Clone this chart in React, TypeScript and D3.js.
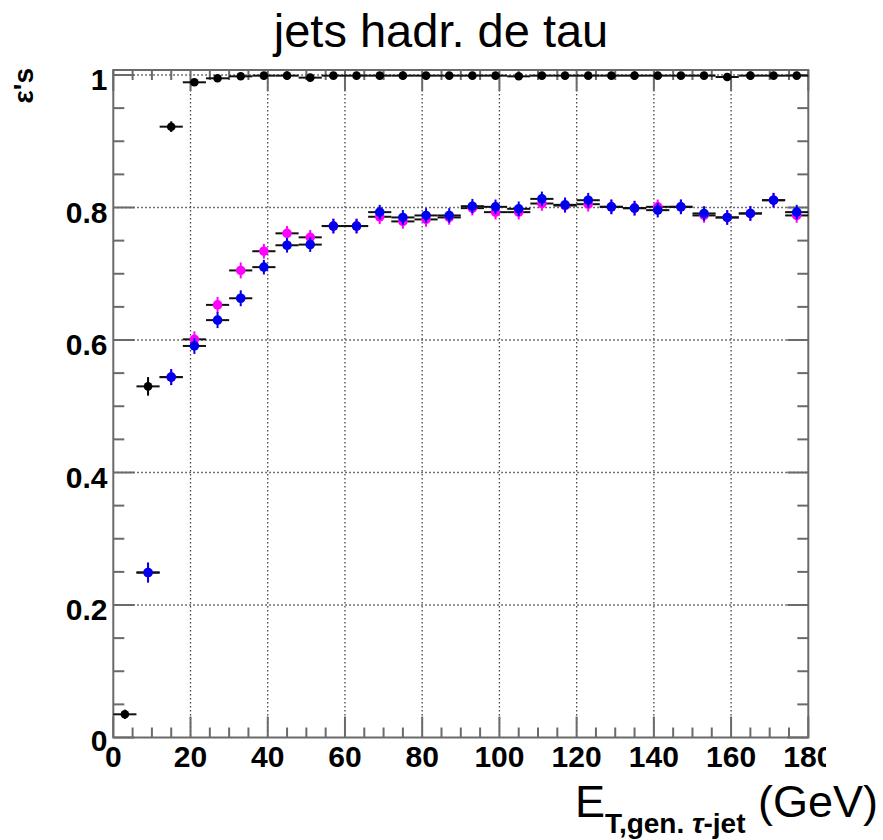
import React from "react";
import * as d3 from "d3";

const binCenters = [3, 9, 15, 21, 27, 33, 39, 45, 51, 57, 63, 69, 75, 81, 87, 93, 99, 105, 111, 117, 123, 129, 135, 141, 147, 153, 159, 165, 171, 177];
const binHalfWidth = 3;

const blackEff = [0.035, 0.53, 0.922, 0.989, 0.995, 0.998, 0.999, 0.999, 0.996, 0.999, 0.999, 0.999, 0.999, 0.999, 0.999, 0.999, 0.999, 0.998, 0.999, 0.999, 0.999, 0.999, 0.999, 0.999, 0.999, 0.999, 0.997, 0.999, 0.999, 0.999];
const blackErr = [0.004, 0.011, 0.005, 0.002, 0.001, 0.001, 0.001, 0.001, 0.001, 0.001, 0.001, 0.001, 0.001, 0.001, 0.001, 0.001, 0.001, 0.001, 0.001, 0.001, 0.001, 0.001, 0.001, 0.001, 0.001, 0.001, 0.001, 0.001, 0.001, 0.001];

const magentaEff = [null, 0.249, 0.544, 0.601, 0.653, 0.705, 0.734, 0.761, 0.755, 0.772, 0.772, 0.786, 0.779, 0.782, 0.785, 0.799, 0.793, 0.793, 0.806, 0.803, 0.805, 0.801, 0.799, 0.801, 0.801, 0.788, 0.785, 0.791, 0.811, 0.788];
const magentaErr = [0, 0.012, 0.009, 0.009, 0.009, 0.009, 0.008, 0.008, 0.008, 0.008, 0.008, 0.008, 0.008, 0.008, 0.008, 0.008, 0.008, 0.008, 0.008, 0.008, 0.008, 0.008, 0.008, 0.008, 0.008, 0.008, 0.008, 0.008, 0.008, 0.008];

const blueEff = [null, 0.249, 0.544, 0.591, 0.63, 0.663, 0.71, 0.743, 0.744, 0.772, 0.772, 0.793, 0.785, 0.788, 0.788, 0.802, 0.801, 0.798, 0.813, 0.804, 0.811, 0.801, 0.799, 0.796, 0.801, 0.791, 0.785, 0.791, 0.811, 0.793];
const blueErr = [0, 0.012, 0.009, 0.009, 0.009, 0.009, 0.008, 0.008, 0.008, 0.008, 0.008, 0.008, 0.008, 0.008, 0.008, 0.008, 0.008, 0.008, 0.008, 0.008, 0.008, 0.008, 0.008, 0.008, 0.008, 0.008, 0.008, 0.008, 0.008, 0.008];

const xMajorTicks = [0, 20, 40, 60, 80, 100, 120, 140, 160, 180];
const xTickLabels = ["0", "20", "40", "60", "80", "100", "120", "140", "160", "180"];
const yMajorTicks = [0, 0.2, 0.4, 0.6, 0.8, 1];
const yTickLabels = ["0", "0.2", "0.4", "0.6", "0.8", "1"];

const titleText = "jets hadr. de tau";
const yTitleText = "ε's";

const W = 883;
const H = 840;
const left = 113.3;
const right = 808.3;
const top = 70;
const bottom = 737.5;

const x = d3.scaleLinear().domain([0, 180]).range([left, right]);
const y = d3.scaleLinear().domain([0, 1]).range([bottom, 75]);

const axisColor = "#6a6a6a";
const font = "'Liberation Sans', Arial, Helvetica, sans-serif";

type Series = { vals: (number | null)[]; errs: number[]; color: string; r: number };

const seriesList: Series[] = [
  { vals: blackEff, errs: blackErr, color: "#000000", r: 4.3 },
  { vals: magentaEff, errs: magentaErr, color: "#ff00ff", r: 4.8 },
  { vals: blueEff, errs: blueErr, color: "#0000ee", r: 4.8 },
];

export default function App() {
  const xMinor = d3.range(0, 181, 5).filter((v) => v % 20 !== 0);
  const yMinor = d3.range(0, 21).map((i) => i * 0.05).filter((v) => Math.abs(v * 5 - Math.round(v * 5)) > 1e-6);

  return (
    <svg
      width={W}
      height={H}
      style={{ position: "absolute", left: 0, top: 0, background: "#fff" }}
      fontFamily={font}
    >
      <defs>
        <clipPath id="xlabclip">
          <rect x={0} y={0} width={826} height={H} />
        </clipPath>
      </defs>
      <rect x={0} y={0} width={W} height={H} fill="#ffffff" />

      {/* grid */}
      <g stroke="#444" strokeWidth={1.3} strokeDasharray="1.5 2.5">
        {xMajorTicks.filter((v) => v > 0 && v < 180).map((v) => (
          <line key={"gx" + v} x1={x(v)} x2={x(v)} y1={top} y2={bottom} />
        ))}
        {yMajorTicks.filter((v) => v > 0).map((v) => (
          <line key={"gy" + v} x1={left} x2={right} y1={y(v)} y2={y(v)} />
        ))}
      </g>

      {/* ticks */}
      <g stroke={axisColor} strokeWidth={2}>
        {xMajorTicks.map((v) => (
          <g key={"xt" + v}>
            <line x1={x(v)} x2={x(v)} y1={bottom} y2={bottom - 21} />
            <line x1={x(v)} x2={x(v)} y1={top} y2={top + 21} />
          </g>
        ))}
        {xMinor.map((v) => (
          <g key={"xm" + v}>
            <line x1={x(v)} x2={x(v)} y1={bottom} y2={bottom - 10} />
            <line x1={x(v)} x2={x(v)} y1={top} y2={top + 10} />
          </g>
        ))}
        {yMajorTicks.map((v) => (
          <g key={"yt" + v}>
            <line x1={left} x2={left + 21} y1={y(v)} y2={y(v)} />
            <line x1={right} x2={right - 21} y1={y(v)} y2={y(v)} />
          </g>
        ))}
        {yMinor.map((v) => (
          <g key={"ym" + v}>
            <line x1={left} x2={left + 11} y1={y(v)} y2={y(v)} />
            <line x1={right} x2={right - 11} y1={y(v)} y2={y(v)} />
          </g>
        ))}
      </g>

      {/* frame */}
      <rect x={left} y={top} width={right - left} height={bottom - top} fill="none" stroke={axisColor} strokeWidth={2} />

      {/* data */}
      {seriesList.map((s, si) => (
        <g key={"s" + si}>
          {binCenters.map((c, i) => {
            const v = s.vals[i];
            if (v === null || v === undefined) return null;
            const e = s.errs[i];
            return (
              <g key={i}>
                <line x1={x(c - binHalfWidth)} x2={x(c + binHalfWidth)} y1={y(v)} y2={y(v)} stroke="#111" strokeWidth={2} />
                <line x1={x(c)} x2={x(c)} y1={y(v - e) + 2} y2={y(v + e) - 2} stroke={s.color} strokeWidth={2} />
                <circle cx={x(c)} cy={y(v)} r={s.r} fill={s.color} />
              </g>
            );
          })}
        </g>
      ))}

      {/* y tick labels */}
      <g fontSize={30} fontWeight="bold" textAnchor="end" fill="#000">
        {yMajorTicks.map((v, i) => (
          <text key={"yl" + v} x={107.5} y={y(v) + (v === 0 ? 13 : 15)}>
            {yTickLabels[i]}
          </text>
        ))}
      </g>

      {/* x tick labels */}
      <g fontSize={30} fontWeight="bold" textAnchor="middle" fill="#000" clipPath="url(#xlabclip)">
        {xMajorTicks.map((v, i) => (
          <text key={"xl" + v} x={x(v)} y={767}>
            {xTickLabels[i]}
          </text>
        ))}
      </g>

      {/* title */}
      <text x={441} y={47} fontSize={47} textAnchor="middle" fill="#000">
        {titleText}
      </text>

      {/* y title */}
      <text transform={`translate(33,68) rotate(-90)`} fontSize={28} fontWeight="bold" textAnchor="end" fill="#000">
        {yTitleText}
      </text>

      {/* x title */}
      <text x={878} y={817} fontSize={45} textAnchor="end" fill="#000">
        <tspan>E</tspan>
        <tspan fontSize={28} fontWeight="bold" dy={16}>
          T,gen. <tspan fontStyle="italic">τ</tspan>-jet
        </tspan>
        <tspan dy={-16}> (GeV)</tspan>
      </text>
    </svg>
  );
}
